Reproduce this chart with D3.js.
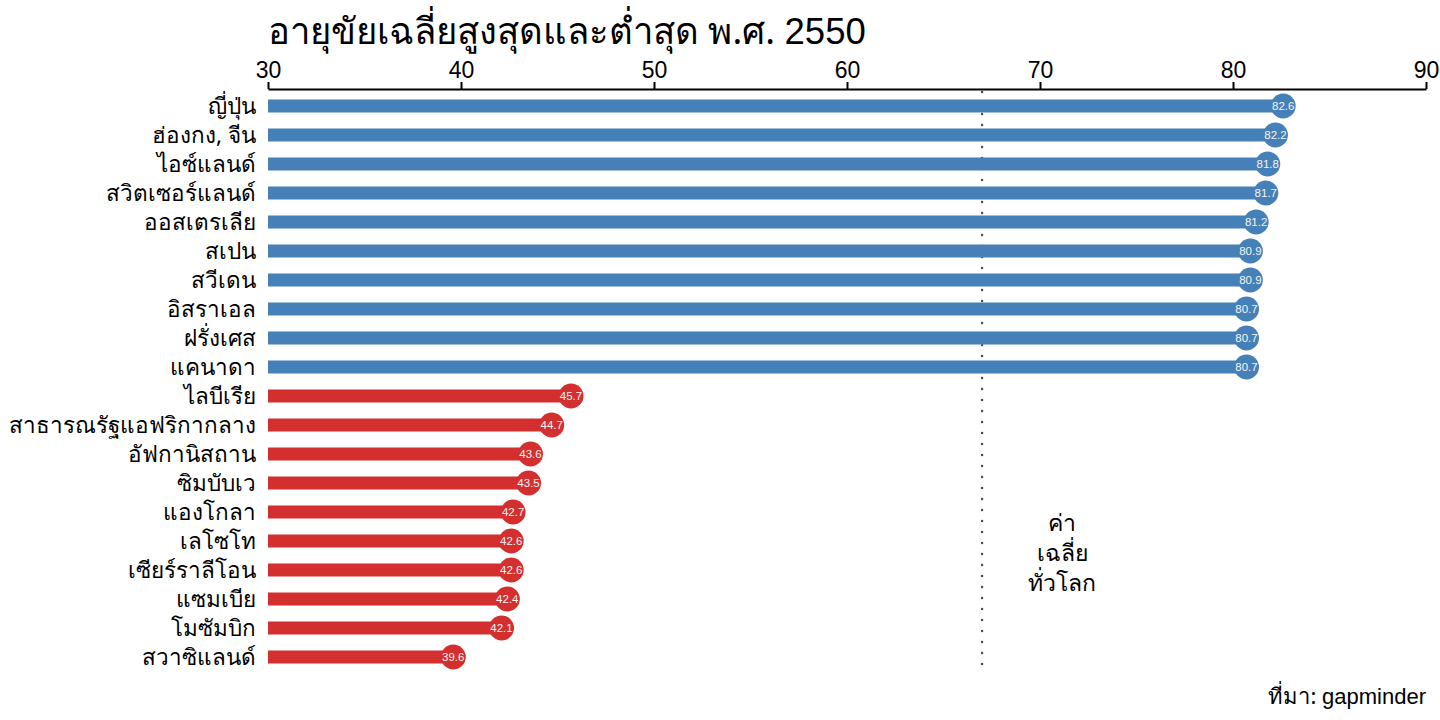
<!DOCTYPE html>
<html>
<head>
<meta charset="utf-8">
<script src="https://cdn.jsdelivr.net/npm/d3@7"></script>
<style>
  body { margin: 0; background: #fff; }
  svg { display: block; font-family: "Noto Sans", sans-serif; }
  .num { font-family: "Liberation Sans", Arial, sans-serif; }
</style>
</head>
<body>
<script>
let W = 1440, H = 720;

let highCountries = ["ญี่ปุ่น", "ฮ่องกง, จีน", "ไอซ์แลนด์", "สวิตเซอร์แลนด์", "ออสเตรเลีย",
  "สเปน", "สวีเดน", "อิสราเอล", "ฝรั่งเศส", "แคนาดา"];
let highValues = [82.6, 82.2, 81.8, 81.7, 81.2, 80.9, 80.9, 80.7, 80.7, 80.7];
let lowCountries = ["ไลบีเรีย", "สาธารณรัฐแอฟริกากลาง", "อัฟกานิสถาน", "ซิมบับเว", "แองโกลา",
  "เลโซโท", "เซียร์ราลีโอน", "แซมเบีย", "โมซัมบิก", "สวาซิแลนด์"];
let lowValues = [45.7, 44.7, 43.6, 43.5, 42.7, 42.6, 42.6, 42.4, 42.1, 39.6];
let worldAvg = 67;
let xTicks = [30, 40, 50, 60, 70, 80, 90];

let rows = highCountries.map((c, i) => ({name: c, value: highValues[i], group: "high"}))
  .concat(lowCountries.map((c, i) => ({name: c, value: lowValues[i], group: "low"})));

let colors = {high: "#4580b8", low: "#d32f2f"};

let svg = d3.select("body").append("svg")
  .attr("width", W).attr("height", H);

let xScale = d3.scaleLinear().domain([30, 90]).range([268, 1426]);
let yScale = d3.scalePoint().domain(rows.map(d => d.name)).range([106, 657]);

let title = svg.append("text")
  .attr("x", 268).attr("y", 44)
  .attr("font-size", 36.5)
  .attr("fill", "#000");
title.append("tspan").text("อายุขัยเฉลี่ยสูงสุดและต่ำสุด พ.ศ. ");
title.append("tspan").attr("class", "num").text("2550");

let axis = svg.append("g")
  .attr("transform", "translate(0, 89)")
  .call(d3.axisTop(xScale).tickValues(xTicks).tickSize(7).tickSizeOuter(0).tickPadding(4));
axis.select(".domain").attr("stroke", "#000").attr("stroke-width", 2);
axis.selectAll(".tick line").attr("stroke", "#000").attr("stroke-width", 2);
axis.selectAll(".tick text").attr("font-size", 23).attr("fill", "#000")
  .attr("font-family", "'Liberation Sans', Arial, sans-serif");

// world average line
svg.append("line")
  .attr("x1", xScale(worldAvg)).attr("x2", xScale(worldAvg))
  .attr("y1", 92).attr("y2", 672)
  .attr("stroke", "#444").attr("stroke-width", 2.4)
  .attr("stroke-dasharray", "0.1 10.9").attr("stroke-linecap", "round");

let annot = ["ค่า", "เฉลี่ย", "ทั่วโลก"];
svg.append("g").selectAll("text").data(annot).enter().append("text")
  .text(d => d)
  .attr("x", 1062)
  .attr("y", (d, i) => 531 + i * 30)
  .attr("text-anchor", "middle")
  .attr("font-size", 23)
  .attr("fill", "#000");

let g = svg.append("g");
g.selectAll(".bar").data(rows).enter().append("rect")
  .attr("class", "bar")
  .attr("x", xScale(30))
  .attr("y", d => yScale(d.name) - 6.5)
  .attr("width", d => xScale(d.value) - xScale(30))
  .attr("height", 13)
  .attr("fill", d => colors[d.group]);

g.selectAll(".dot").data(rows).enter().append("circle")
  .attr("cx", d => xScale(d.value))
  .attr("cy", d => yScale(d.name))
  .attr("r", 12.5)
  .attr("fill", d => colors[d.group]);

g.selectAll(".val").data(rows).enter().append("text")
  .attr("class", "num")
  .text(d => d.value.toFixed(1))
  .attr("x", d => xScale(d.value))
  .attr("y", d => yScale(d.name) + 4)
  .attr("text-anchor", "middle")
  .attr("font-size", 11.5)
  .attr("fill", "#f4f4f4");

g.selectAll(".lab").data(rows).enter().append("text")
  .text(d => d.name)
  .attr("x", 256)
  .attr("y", d => yScale(d.name) + 8)
  .attr("text-anchor", "end")
  .attr("font-size", 22.5)
  .attr("fill", "#000");

let src = svg.append("text")
  .attr("x", 1426).attr("y", 704)
  .attr("text-anchor", "end")
  .attr("font-size", 22)
  .attr("fill", "#000");
src.append("tspan").text("ที่มา: ");
src.append("tspan").attr("class", "num").text("gapminder");
</script>
</body>
</html>
